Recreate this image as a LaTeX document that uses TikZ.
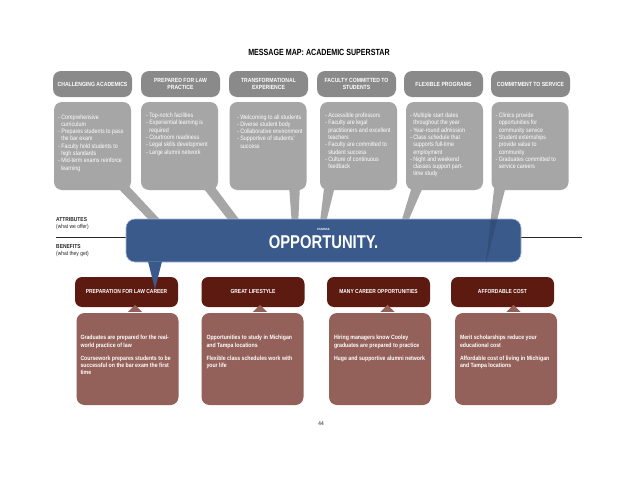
\documentclass[tikz,border=0pt]{standalone}
\usepackage{fontspec}
\setmainfont{Liberation Sans}
\newfontfamily\condfont[FakeStretch=0.85]{Liberation Sans}
\newfontfamily\titlefont[FakeStretch=0.8]{Liberation Sans}
\usetikzlibrary{positioning, calc}
\definecolor{mapgray}{RGB}{138,138,138}
\definecolor{attrgray}{RGB}{166,166,166}
\definecolor{coreblue}{RGB}{58,90,140}
\definecolor{coreedge}{RGB}{160,182,212}
\definecolor{mapred}{RGB}{92,26,16}
\definecolor{maprose}{RGB}{148,96,90}
\definecolor{mapdark}{RGB}{40,40,40}
\definecolor{pagegray}{RGB}{90,90,90}
\newcommand\contline{\phantom{-\ }}
\tikzset{
  hdr/.style={rectangle, fill=mapgray, rounded corners=8pt,
    minimum width=79pt, minimum height=26pt, inner sep=0pt,
    align=center, text=white,
    font=\condfont\bfseries\fontsize{6}{6.4}\selectfont},
  attrbox/.style={rectangle, fill=attrgray, rounded corners=8pt,
    minimum width=77pt, minimum height=88pt, inner sep=0pt},
  attrtext/.style={anchor=north west, inner sep=0pt, align=left,
    text=white, font=\condfont\fontsize{6.3}{7.3}\selectfont},
  tail/.style={fill=attrgray},
  corebox/.style={rectangle, fill=coreblue, draw=coreedge, line width=0.6pt,
    rounded corners=9pt, minimum width=395pt, minimum height=43pt},
  benefit/.style={rectangle, fill=mapred, rounded corners=7pt,
    minimum width=103pt, minimum height=30pt, inner sep=0pt, text=white,
    font=\condfont\bfseries\fontsize{5.8}{6.4}\selectfont},
  detail/.style={rectangle, fill=maprose, rounded corners=8pt,
    minimum width=102pt, minimum height=92pt, inner sep=0pt},
  detailtext/.style={anchor=north west, inner sep=0pt, align=left,
    text=white, font=\condfont\bfseries\fontsize{6.1}{7.2}\selectfont},
  sidelabel/.style={anchor=north west, inner sep=0pt, align=left,
    text=mapdark, font=\condfont\fontsize{5.8}{7}\selectfont}
}
\begin{document}
\begin{tikzpicture}[x=1pt, y=-1pt]
  \useasboundingbox[fill=white] (0,0) rectangle (638,479);

  \node[font=\titlefont\bfseries\fontsize{8.9}{10}\selectfont] (title) at (319,52) {MESSAGE MAP: ACADEMIC SUPERSTAR};

  % attribute headers
  \node[hdr] (h1) at (92.5,84) {CHALLENGING ACADEMICS};
  \node[hdr] (h2) at (180.5,84) {PREPARED FOR LAW\\PRACTICE};
  \node[hdr] (h3) at (268.5,84) {TRANSFORMATIONAL\\EXPERIENCE};
  \node[hdr] (h4) at (356.5,84) {FACULTY COMMITTED TO\\STUDENTS};
  \node[hdr] (h5) at (443.5,84) {FLEXIBLE PROGRAMS};
  \node[hdr] (h6) at (530.5,84) {COMMITMENT TO SERVICE};

  % callout tails
  \fill[tail] (110,180) -- (123,180) -- (166,226) -- (155,226) -- cycle;
  \fill[tail] (197,180) -- (209.5,180) -- (244,226) -- (233,226) -- cycle;
  \fill[tail] (289,185) -- (300,185) -- (298,226) -- (292,226) -- cycle;
  \fill[tail] (325,180) -- (336.5,180) -- (325,226) -- (319.5,226) -- cycle;
  \fill[tail] (414,180) -- (426,180) -- (406,226) -- (400,226) -- cycle;
  \fill[tail] (495,180) -- (507.5,180) -- (486,263) -- cycle;

  \node[attrbox] (a1) at (92.5,146) {};
  \node[attrbox] (a2) at (179.5,146) {};
  \node[attrbox] (a3) at (268,146) {};
  \node[attrbox] (a4) at (358.5,146) {};
  \node[attrbox] (a5) at (444.5,146) {};
  \node[attrbox] (a6) at (530,146) {};

  \node[attrtext] (t1) at ([shift={(4,12.5)}]a1.north west) {- Comprehensive\\\contline curriculum\\- Prepares students to pass\\\contline the bar exam\\- Faculty hold students to\\\contline high standards\\- Mid-term exams reinforce\\\contline learning};
  \node[attrtext] (t2) at ([shift={(5,11)}]a2.north west) {- Top-notch facilities\\- Experiential learning is\\\contline required\\- Courtroom readiness\\- Legal skills development\\- Large alumni network};
  \node[attrtext] (t3) at ([shift={(7.5,12.5)}]a3.north west) {- Welcoming to all students\\- Diverse student body\\- Collaborative environment\\- Supportive of students'\\\contline success};
  \node[attrtext] (t4) at ([shift={(5,11)}]a4.north west) {- Accessible professors\\- Faculty are legal\\\contline practitioners and excellent\\\contline teachers\\- Faculty are committed to\\\contline student success\\- Culture of continuous\\\contline feedback};
  \node[attrtext] (t5) at ([shift={(4,11)}]a5.north west) {- Multiple start dates\\\contline throughout the year\\- Year-round admission\\- Class schedule that\\\contline supports full-time\\\contline employment\\- Night and weekend\\\contline classes support part-\\\contline time study};
  \node[attrtext] (t6) at ([shift={(4,11)}]a6.north west) {- Clinics provide\\\contline opportunities for\\\contline community service\\- Student externships\\\contline provide value to\\\contline community\\- Graduates committed to\\\contline service careers};

  % essence banner
  \coordinate (ruleL) at (56,237);
  \coordinate (ruleR) at (582,237);
  \draw[mapdark, line width=0.7pt] (ruleL) -- (ruleR);

  \node[sidelabel] (attr) at (56,217.5) {\textbf{ATTRIBUTES}\\(what we offer)};
  \node[sidelabel] (bene) at (56,244.5) {\textbf{BENEFITS}\\(what they get)};

  \node[corebox] (core) at (323.5,240.5) {};
  \begin{scope}
    \clip (core.south west) rectangle (core.north east);
    \fill[black, opacity=0.12] (495,180) -- (507.5,180) -- (486,263) -- cycle;
  \end{scope}
  \node[text=white, font=\condfont\bfseries\fontsize{3}{3}\selectfont] (ess) at (323.5,229) {ESSENCE};
  \node[text=white, font=\titlefont\bfseries\fontsize{18.5}{20}\selectfont] (opp) at (323.5,242) {OPPORTUNITY.};

  % benefits
  \node[benefit] (b1) at (126.5,292) {PREPARATION FOR LAW CAREER};
  \node[benefit] (b2) at (253,292) {GREAT LIFESTYLE};
  \node[benefit] (b3) at (378.5,292) {MANY CAREER OPPORTUNITIES};
  \node[benefit] (b4) at (502.5,292) {AFFORDABLE COST};

  \coordinate (coretip) at (155,289);
  \fill[coreblue] (148,261.5) -- (162,261.5) -- (coretip) -- cycle;

  \node[detail] (d1) at (127.5,359) {};
  \node[detail] (d2) at (252.5,359) {};
  \node[detail] (d3) at (380,359) {};
  \node[detail] (d4) at (506,359) {};
  \foreach \d in {d1,d2,d3,d4}
    \fill[maprose] ([xshift=0.5pt,yshift=1pt]\d.north) -- ++(7,-7) -- ++(7,7) -- cycle;

  \node[detailtext] (s1) at ([shift={(4,22.5)}]d1.north west) {Graduates are prepared for the real-\\world practice of law\\[5.8pt]Coursework prepares students to be\\successful on the bar exam the first\\time};
  \node[detailtext] (s2) at ([shift={(5,22.5)}]d2.north west) {Opportunities to study in Michigan\\and Tampa locations\\[5.8pt]Flexible class schedules work with\\your life};
  \node[detailtext] (s3) at ([shift={(5,22.5)}]d3.north west) {Hiring managers know Cooley\\graduates are prepared to practice\\[5.8pt]Huge and supportive alumni network};
  \node[detailtext] (s4) at ([shift={(5,22.5)}]d4.north west) {Merit scholarships reduce your\\educational cost\\[5.8pt]Affordable cost of living in Michigan\\and Tampa locations};

  \node[text=pagegray, font=\condfont\bfseries\fontsize{5.5}{6}\selectfont] (page) at (321,424) {44};
\end{tikzpicture}
\end{document}
